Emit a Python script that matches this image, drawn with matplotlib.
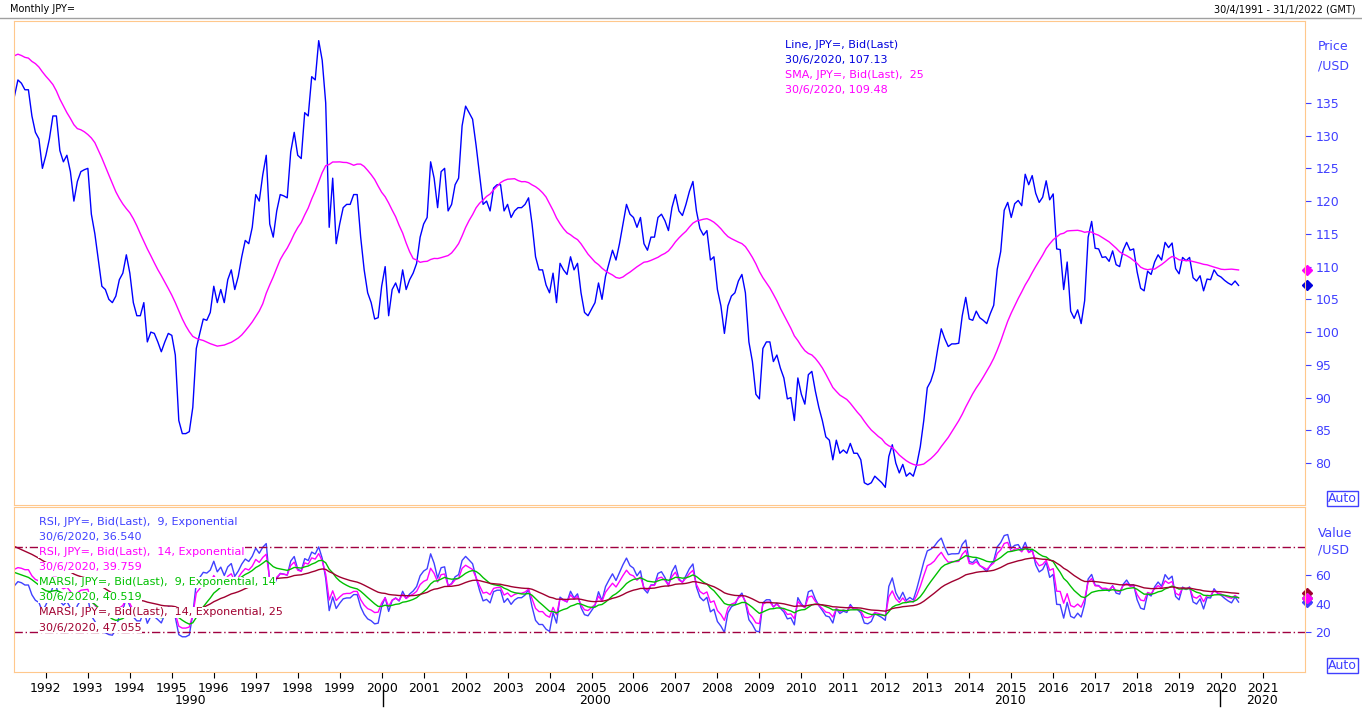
import numpy as np
import pandas as pd
import matplotlib
matplotlib.use('Agg')
import matplotlib.pyplot as plt

# monthly USD/JPY closes, 1989-04 .. 1991-03 (history, only used for indicators)
history = [132.5, 143, 144, 140, 145.5, 139, 142.5, 143.5, 143.8,
           144.5, 149.5, 157.5, 159, 152, 152.5, 146.5, 144, 138, 129, 132.5, 135.5,
           131, 133, 140.5]

# monthly closes shown on the chart, 1991-04 .. 2020-06
price = [
    136, 138.5, 138, 137, 137, 133, 130.5, 129.5, 125,
    127, 129.5, 133, 133, 127.7, 126, 127, 124.5, 120, 123, 124.5, 124.8,
    125, 118, 115, 111, 107, 106.5, 105, 104.5, 105.5, 108, 109, 111.8,
    109, 104.5, 102.5, 102.5, 104.5, 98.5, 100, 99.8, 98.5, 97, 98.5, 99.8,
    99.5, 96.5, 86.5, 84.5, 84.5, 84.8, 88.5, 97.5, 99.8, 102, 101.8, 103,
    107, 104.5, 106.5, 104.5, 108, 109.5, 106.5, 108.5, 111.5, 114, 113.5, 116,
    121, 120, 124, 127, 116.5, 114.5, 118.5, 121, 120.8, 120.5, 127.5, 130.5,
    127, 126.5, 133.5, 133, 139, 138.5, 144.5, 141.5, 135, 116, 123.5, 113.5,
    116.5, 119, 119.5, 119.5, 121, 121, 114.5, 109.5, 106, 104.5, 102, 102.2,
    107, 110, 102.5, 106.5, 107.5, 106, 109.5, 106.5, 108, 109, 110.5, 114.5,
    116.5, 117.5, 126, 123.5, 119, 124.5, 125, 118.5, 119.5, 122.5, 123.5, 131.5,
    134.5, 133.5, 132.5, 128.5, 124, 119.5, 120, 118.5, 122, 122.5, 122.5, 118.5,
    119.5, 117.5, 118.5, 119, 119, 119.5, 120.5, 116.5, 111.5, 109.5, 109.5, 107.2,
    106, 109, 104.5, 110.5, 109.5, 108.8, 111.5, 109.5, 110.5, 106, 103, 102.5,
    103.5, 104.5, 107.5, 105, 108.5, 110.5, 112.5, 111, 113.5, 116.5, 119.5, 118,
    117.5, 116, 117.5, 113.5, 112.5, 114.5, 114.5, 117.5, 118, 117, 115.5, 119,
    121, 118.5, 117.8, 119.5, 121.5, 123, 118.5, 115.8, 114.8, 115.5, 111, 111.5,
    106.5, 104, 99.8, 104, 105.5, 106, 107.8, 108.8, 106, 98.5, 95.5, 90.5,
    89.8, 97.5, 98.5, 98.5, 95.5, 96.5, 94.5, 93, 89.8, 90, 86.5, 93,
    90.5, 89, 93.5, 94, 91, 88.5, 86.5, 84, 83.5, 80.5, 83.5, 81.5,
    82, 81.5, 83, 81.5, 81.5, 80.5, 77, 76.7, 77, 78, 77.5, 77,
    76.3, 81, 82.8, 80, 78.5, 79.8, 78, 78.5, 78, 79.8, 82.5, 86.5,
    91.5, 92.5, 94.2, 97.5, 100.5, 99, 97.8, 98.2, 98.2, 98.3, 102.5, 105.3,
    102, 101.8, 103.2, 102.2, 101.8, 101.3, 102.8, 104.1, 109.6, 112.3, 118.6, 119.8,
    117.5, 119.6, 120.1, 119.3, 124.1, 122.5, 123.9, 121.2, 119.8, 120.6, 123.1, 120.2,
    121.1, 112.7, 112.6, 106.5, 110.7, 103.2, 102.1, 103.4, 101.3, 104.8, 114.5, 116.9,
    112.8, 112.7, 111.4, 111.5, 110.8, 112.4, 110.3, 110.0, 112.5, 113.7, 112.5, 112.7,
    109.2, 106.7, 106.3, 109.3, 108.8, 110.7, 111.8, 111.0, 113.7, 112.9, 113.6, 109.7,
    108.9, 111.4, 110.9, 111.4, 108.3, 107.8, 108.6, 106.3, 108.1, 108.0, 109.5, 108.7,
    108.4, 107.9, 107.5, 107.2, 107.8, 107.13,
]

year_ticks = list(range(1992, 2022))
decade_labels = ['1990', '2000', '2010', '2020']

full = pd.Series(history + price)
n_hist = len(history)
x_all = 1989 + 3 / 12 + np.arange(len(full)) / 12
x = x_all[n_hist:]

sma = full.rolling(25, min_periods=1).mean().values[n_hist:]


def rsi(s, n):
    d = s.diff()
    up = d.clip(lower=0).ewm(alpha=1 / n, adjust=False).mean()
    dn = (-d.clip(upper=0)).ewm(alpha=1 / n, adjust=False).mean()
    return 100 - 100 / (1 + up / dn)


rsi9 = rsi(full, 9)
rsi14 = rsi(full, 14)
marsi9 = rsi9.ewm(span=14, adjust=False).mean()
marsi14 = rsi14.ewm(span=25, adjust=False).mean()
rsi9, rsi14, marsi9, marsi14 = [v.values[n_hist:] for v in (rsi9, rsi14, marsi9, marsi14)]

W, H = 1362, 710
fig = plt.figure(figsize=(W / 100, H / 100), dpi=100)
fig.patch.set_facecolor('white')
left, right = 14 / W, 1305 / W
ax1 = fig.add_axes([left, 1 - 505 / H, right - left, (505 - 21) / H])
ax2 = fig.add_axes([left, 1 - 672 / H, right - left, (672 - 507) / H], sharex=ax1)

orange = '#ffc88c'
lab = '#4040ff'
for ax in (ax1, ax2):
    for sp in ax.spines.values():
        sp.set_color(orange)
    ax.yaxis.tick_right()
    ax.tick_params(axis='y', colors=lab, labelsize=9, length=4, direction='out')
    ax.tick_params(axis='y', labelcolor=lab)

ax1.set_xlim(1991.24, 2022.0)
ax1.set_ylim(73.6, 147.5)
ax1.plot(x, price, color='#0000ff', lw=1)
ax1.plot(x, sma, color='#ff00ff', lw=1)
ax1.set_yticks(range(80, 140, 5))
ax1.tick_params(axis='x', bottom=False, labelbottom=False)
ax1.plot([2022.05], [price[-1]], 'D', color='#0000dd', ms=5, clip_on=False)
ax1.plot([2022.05], [sma[-1]], 'D', color='#ff00ff', ms=5, clip_on=False)
ax1.text(1.01, 0.96, 'Price\n/USD', transform=ax1.transAxes, color=lab, fontsize=9, va='top', linespacing=1.6)
ax1.text(1.018, 0.0, 'Auto', transform=ax1.transAxes, color=lab, fontsize=9, va='bottom',
         bbox=dict(facecolor='white', edgecolor=lab, pad=1))
leg1 = [('Line, JPY=, Bid(Last)', '#0000dd'), ('30/6/2020, 107.13', '#0000dd'),
        ('SMA, JPY=, Bid(Last),  25', '#ff00ff'), ('30/6/2020, 109.48', '#ff00ff')]
for i, (t, c) in enumerate(leg1):
    ax1.text(0.597, 0.96 - i * 0.031, t, transform=ax1.transAxes, color=c, fontsize=8, va='top')

ax2.set_ylim(-8, 107.7)
ax2.plot(x, rsi9, color='#4040ff', lw=1, zorder=2)
ax2.plot(x, rsi14, color='#ff00ff', lw=1, zorder=2)
ax2.plot(x, marsi9, color='#00c000', lw=1, zorder=2)
ax2.plot(x, marsi14, color='#a00030', lw=1, zorder=2)
for lvl in (80, 20):
    ax2.axhline(lvl, color='#a00040', lw=1, ls=(0, (6, 2, 1, 2)))
ax2.set_yticks([20, 40, 60])
for v, c in ((marsi14[-1], '#a00030'), (marsi9[-1], '#00c000'), (rsi9[-1], '#4040ff'), (rsi14[-1], '#ff00ff')):
    ax2.plot([2022.05], [v], 'D', color=c, ms=5, clip_on=False)
ax2.text(1.01, 0.88, 'Value\n/USD', transform=ax2.transAxes, color=lab, fontsize=9, va='top', linespacing=1.4)
ax2.text(1.018, 0.0, 'Auto', transform=ax2.transAxes, color=lab, fontsize=9, va='bottom',
         bbox=dict(facecolor='white', edgecolor=lab, pad=1))
leg2 = [('RSI, JPY=, Bid(Last),  9, Exponential', '#4040ff'), ('30/6/2020, 36.540', '#4040ff'),
        ('RSI, JPY=, Bid(Last),  14, Exponential', '#ff00ff'), ('30/6/2020, 39.759', '#ff00ff'),
        ('MARSI, JPY=, Bid(Last),  9, Exponential, 14', '#00c000'), ('30/6/2020, 40.519', '#00c000'),
        ('MARSI, JPY=, Bid(Last),  14, Exponential, 25', '#a00030'), ('30/6/2020, 47.055', '#a00030')]
for i, (t, c) in enumerate(leg2):
    ax2.text(0.019, 0.94 - i * 0.0915, t, transform=ax2.transAxes, color=c, fontsize=8, va='top',
             zorder=5, bbox=dict(facecolor='white', edgecolor='none', pad=0.5))

ax2.set_xticks(year_ticks)
ax2.set_xticklabels([str(y) for y in year_ticks])
ax2.tick_params(axis='x', colors='black', labelsize=9, length=4, direction='out')

# decade row below the year labels (figure pixel positions)
for lbl, px in zip(decade_labels, [190, 595, 1010, 1262]):
    fig.text(px / W, 1 - 700 / H, lbl, ha='center', va='center', fontsize=9)
for px in (383, 1220):
    fig.add_artist(plt.Line2D([px / W, px / W], [1 - 690 / H, 1 - 706 / H], color='black', lw=1))

fig.text(10 / W, 1 - 4 / H, 'Monthly JPY=', fontsize=7, va='top')
fig.text(1355 / W, 1 - 4 / H, '30/4/1991 - 31/1/2022 (GMT)', fontsize=7, va='top', ha='right')
fig.add_artist(plt.Line2D([0, 1], [1 - 18 / H, 1 - 18 / H], color='#a0a0a0', lw=1))

fig.savefig('out.png', dpi=100, facecolor='white')
